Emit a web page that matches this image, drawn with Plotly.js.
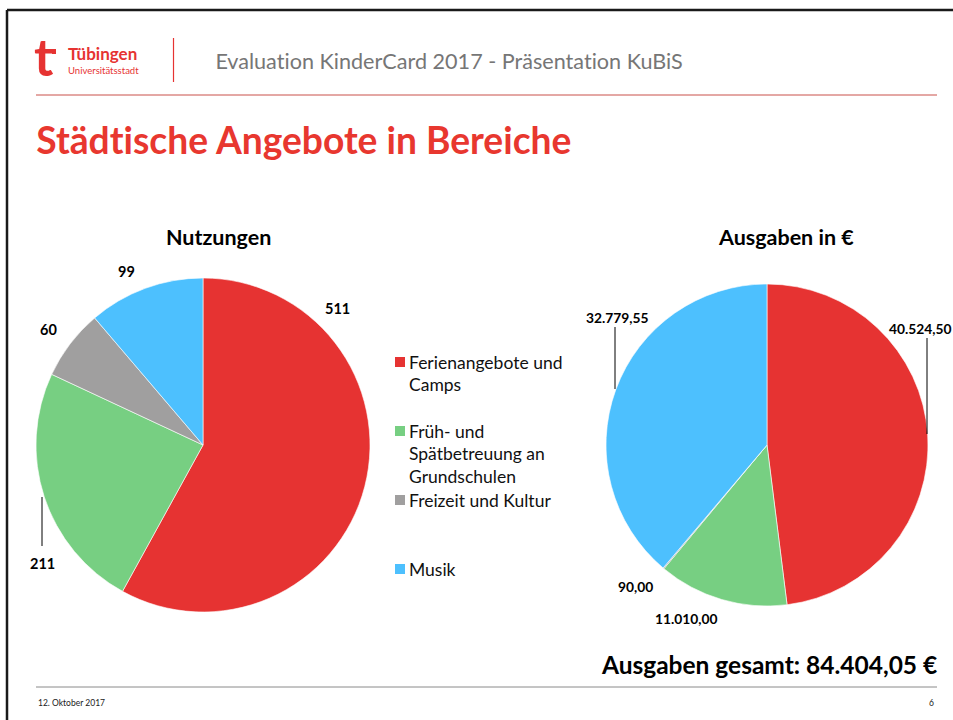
<!DOCTYPE html>
<html>
<head>
<meta charset="utf-8">
<script src="https://cdn.plot.ly/plotly-3.0.1.min.js"></script>
<style>
  html, body { margin: 0; padding: 0; background: #fff; }
  #chart { width: 953px; height: 720px; }
  #chart text { font-variant-ligatures: none; font-feature-settings: "liga" 0, "clig" 0; }
</style>
</head>
<body>
<div id="chart"></div>
<script>
// ---- data ----
const categories = ["Ferienangebote und<br>Camps", "Früh- und<br>Spätbetreuung an<br>Grundschulen", "Freizeit und Kultur", "Musik"];
const usageValues = [511, 211, 60, 99];
const spendValues = [40524.50, 11010.00, 90.00, 32779.55];
const sliceColors = ["#E63332", "#77CF82", "#A09F9F", "#4DC0FE"];
const usageTitle = "Nutzungen";
const spendTitle = "Ausgaben in €";
const slideTitle = "Städtische Angebote in Bereiche";
const headerText = "Evaluation KinderCard 2017 - Präsentation KuBiS";
const footerDate = "12. Oktober 2017";
const pageNumber = "6";

// ---- helpers ----
const W = 953, H = 720;
const px = x => x / W;
const py = y => 1 - y / H;
function fmtDE(v, dec) {
  const parts = v.toFixed(dec).split(".");
  const intPart = parts[0].replace(/\B(?=(\d{3})+(?!\d))/g, ".");
  return dec > 0 ? intPart + "," + parts[1] : intPart;
}
const FONT = "Lato, 'Open Sans', sans-serif";
const total = spendValues.reduce((a, b) => a + b, 0);

const traces = [
  {
    type: "pie",
    values: usageValues,
    labels: categories,
    marker: { colors: sliceColors, line: { color: "#ffffff", width: 0.6 } },
    sort: false,
    direction: "clockwise",
    rotation: 0,
    textinfo: "none",
    hoverinfo: "label+value",
    showlegend: false,
    domain: { x: [px(36), px(370)], y: [py(612), py(278)] }
  },
  {
    type: "pie",
    values: spendValues,
    labels: categories,
    marker: { colors: sliceColors, line: { color: "#ffffff", width: 0.6 } },
    sort: false,
    direction: "clockwise",
    rotation: 0,
    textinfo: "none",
    hoverinfo: "label+value",
    showlegend: false,
    domain: { x: [px(606), px(928)], y: [py(606), py(284)] }
  }
];

const ann = [];
function addText(text, x, y, size, color, bold, xanchor) {
  ann.push({
    text: bold ? "<b>" + text + "</b>" : text,
    x: px(x), y: py(y), xref: "paper", yref: "paper",
    xanchor: xanchor || "center", yanchor: "middle",
    showarrow: false,
    font: { family: FONT, size: size, color: color }
  });
}

// header / logo
addText("t", 44, 56, 52, "#E63332", true, "center");
addText("Tübingen", 66, 54, 17, "#E63332", true, "left");
addText("Universitätsstadt", 66, 71, 9.5, "#E63332", false, "left");
addText(headerText, 213, 61, 21.6, "#767676", false, "left");
addText(slideTitle, 34, 140, 37.2, "#E8372F", true, "left");

// chart titles
addText(usageTitle, 218, 237, 21.5, "#000000", true, "center");
addText(spendTitle, 786, 237, 21.5, "#000000", true, "center");

// data labels left pie
const usageLabelPos = [[337, 308], [42, 563], [48, 330], [127, 271]];
usageValues.forEach((v, i) => addText(fmtDE(v, 0), usageLabelPos[i][0], usageLabelPos[i][1], 14.5, "#000", true, "center"));
// data labels right pie
const spendLabelPos = [[920, 329], [686, 618], [635, 586], [617, 317]];
spendValues.forEach((v, i) => addText(fmtDE(v, 2), spendLabelPos[i][0], spendLabelPos[i][1], 13.8, "#000", true, "center"));

// legend text
const legendY = [362, 431, 500, 569];
const lineH = 22.8;
categories.forEach((c, i) => {
  c.split("<br>").forEach((line, j) => addText(line, 407, legendY[i] + j * lineH, 17.5, "#111111", false, "left"));
});

// total
addText("Ausgaben gesamt: " + fmtDE(total, 2) + " €", 939, 664, 24.5, "#000", true, "right");

// footer
addText(footerDate, 36, 703, 8.5, "#222", false, "left");
addText(pageNumber, 936, 703, 8.5, "#222", false, "right");

// shapes
const shapes = [];
function line(x0, y0, x1, y1, color, width) {
  shapes.push({ type: "line", xref: "paper", yref: "paper", x0: px(x0), y0: py(y0), x1: px(x1), y1: py(y1), line: { color: color, width: width } });
}
function rect(x0, y0, x1, y1, color) {
  shapes.push({ type: "rect", xref: "paper", yref: "paper", x0: px(x0), y0: py(y0), x1: px(x1), y1: py(y1), fillcolor: color, line: { width: 0 } });
}
// frame
line(7, 10, 953, 10, "#1a1a1a", 2.5);
line(7, 10, 7, 720, "#1a1a1a", 2.5);
// logo dot
rect(52, 49, 56, 54, "#E63332");
// header separators
line(173.5, 38, 173.5, 82, "#E63332", 1.2);
line(36, 95, 937, 95, "#C9504A", 1);
// footer line
line(36, 687, 937, 687, "#8a8a8a", 1);
// leader lines
line(42, 497, 42, 546, "#000", 1);
line(927, 338, 927, 434, "#000", 1);
line(615, 327, 615, 389, "#000", 1);
// legend squares
legendY.forEach((y, i) => rect(395, y - 5, 405, y + 5, sliceColors[i]));

const layout = {
  width: W, height: H,
  margin: { l: 0, r: 0, t: 0, b: 0 },
  paper_bgcolor: "#ffffff",
  showlegend: false,
  annotations: ann,
  shapes: shapes,
  font: { family: FONT }
};

Plotly.newPlot("chart", traces, layout, { displayModeBar: false, staticPlot: true });
</script>
</body>
</html>
